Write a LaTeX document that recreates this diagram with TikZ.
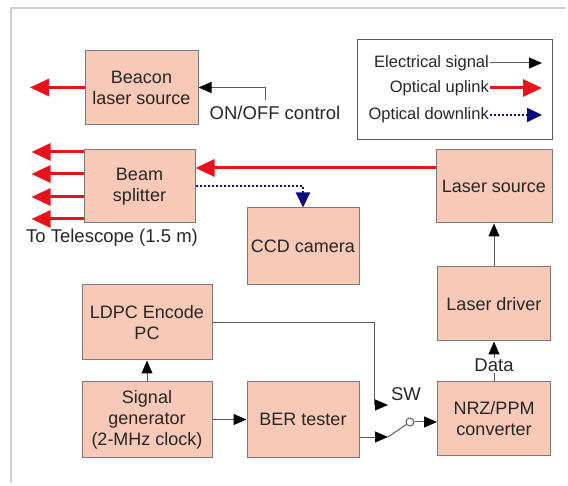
\documentclass[tikz,border=0pt]{standalone}
\usepackage{fontspec}
\setmainfont{Liberation Sans}
\usetikzlibrary{arrows.meta,positioning,calc}
\usepackage{xcolor}
\definecolor{blockFill}{HTML}{F7C9B6}
\definecolor{blockLine}{HTML}{7A7A7A}
\definecolor{upRed}{HTML}{E8121C}
\definecolor{downBlue}{HTML}{0B0B7E}
\definecolor{frameGray}{HTML}{CFCFCF}
\definecolor{wireGray}{HTML}{5A5A5A}

\begin{document}
\begin{tikzpicture}[x=1pt,y=-1pt,>=Latex]
  \tikzstyle{block}=[draw=blockLine,fill=blockFill,line width=1pt,minimum width=113pt,minimum height=74pt,inner sep=0pt,align=center,font=\fontsize{18}{21}\selectfont,text=black!85]
  \tikzstyle{lbl}=[inner sep=1pt,font=\fontsize{18.5}{21}\selectfont,text=black!85]
  \tikzstyle{keytext}=[inner sep=1pt,font=\fontsize{16.5}{20}\selectfont,text=black!85,anchor=east]
  \tikzstyle{sig}=[-{Triangle[length=13pt,width=11pt,color=black]},draw=wireGray,line width=1pt]
  \tikzstyle{uplink}=[-{Triangle[length=19pt,width=17pt]},draw=upRed,line width=3pt]
  \tikzstyle{downlink}=[-{Triangle[length=15pt,width=14pt]},draw=downBlue,line width=2pt,dash pattern=on 2pt off 2pt]
  \useasboundingbox (0,0) rectangle (568,486);
  \draw[frameGray,line width=2pt] (11,483) -- (11,8) -- (566,8);
  % blocks
  \node[block] (beacon) at (141.5,87.5) {Beacon\\laser source};
  \node[block,minimum width=111pt,minimum height=73pt] (splitter) at (139.5,186.5) {Beam\\splitter};
  \node[block,minimum width=112pt,minimum height=77pt] (ccd) at (303,246.5) {CCD camera};
  \node[block,minimum width=116pt,minimum height=73pt] (lasersrc) at (494,186.5) {Laser source};
  \node[block] (driver) at (494,304) {Laser driver};
  \node[block,minimum height=73pt] (nrz) at (494,418.5) {NRZ/PPM\\converter};
  \node[block,minimum width=130pt,minimum height=75pt] (ldpc) at (147,322.5) {LDPC Encode\\PC};
  \node[block,minimum width=130pt,minimum height=75pt] (siggen) at (147,419.5) {Signal\\generator\\(2-MHz clock)};
  \node[block,minimum width=112pt,minimum height=75pt] (ber) at (303,419.5) {BER tester};
  % legend
  \node[draw=wireGray,line width=1pt,minimum width=195pt,minimum height=100pt] (legend) at (454.5,90) {};
  \node[keytext] (lgelec) at (490,63) {Electrical signal};
  \node[keytext] (lgup) at (490,88) {Optical uplink};
  \node[keytext] (lgdown) at (490,115) {Optical downlink};
  \draw[sig] (lgelec.east) -- ++(52,0);
  \draw[uplink] (lgup.east) -- ++(52,0);
  \draw[downlink] (lgdown.east) -- ++(52,0);
  % optical paths
  \coordinate (beaconout) at (30,87.5);
  \draw[uplink] (beacon) -- (beaconout);
  \foreach \dy [count=\i] in {34.5,12.5,-10.5,-32.5}{\coordinate (tel\i) at ([yshift=\dy pt]splitter.west); \draw[uplink] (tel\i) -- ++(-52,0);}
  \node[lbl] (tele) at (112,238) {To Telescope (1.5 m)};
  \draw[uplink] ([yshift=18.5pt]lasersrc.west) -- ([yshift=18.5pt]splitter.east);
  \draw[downlink] (splitter.east) -| (ccd.north);
  % electrical signals
  \coordinate (onoff) at (265,100);
  \draw[sig] (onoff) |- (beacon.east);
  \node[lbl] (onofflabel) at (275,113) {ON/OFF control};
  \foreach \a/\b in {driver/lasersrc,siggen/ldpc,siggen/ber}{\draw[sig] (\a) -- (\b);}
  \draw[sig] (nrz) -- node[lbl,pos=.4,fill=white] {Data} (driver);
  % switch
  \coordinate (swtop) at (388,405);
  \coordinate (swbot) at (388,437);
  \node[circle,draw=wireGray,fill=white,line width=1pt,minimum size=8pt,inner sep=0pt] (swpivot) at (410,422) {};
  \node[lbl] (swlabel) at (406,394) {SW};
  \draw[sig] (ldpc.east) -- ++(162,0) |- (swtop);
  \draw[sig] (ber.east |- swbot) -- (swbot);
  \draw[wireGray,line width=1pt] (swbot) -- (swpivot);
  \draw[sig] (swpivot) -- (nrz.west |- swpivot);
\end{tikzpicture}
\end{document}
